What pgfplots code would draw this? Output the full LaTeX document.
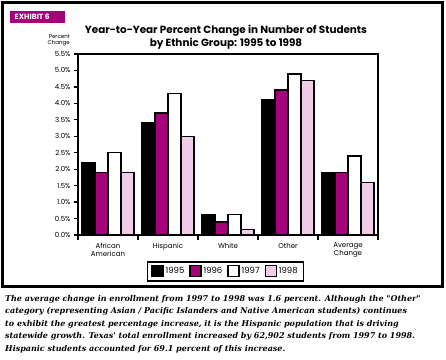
\documentclass[border=0pt]{standalone}
\usepackage{pgfplots}
\pgfplotsset{compat=1.18}
\usepackage{fontspec}
\setmainfont{Poppins}
\newfontfamily\capfont{DejaVu Serif}
\definecolor{mag}{RGB}{166,0,122}
\definecolor{pnk}{RGB}{240,204,230}
\begin{document}
\begin{tikzpicture}[x=1pt,y=1pt]
\fill[white] (0,0) rectangle (446,-359);
\draw[line width=3pt] (2.5,-2.5) rectangle (442.5,-286.5);
\fill[mag] (10,-10.5) rectangle (65,-22.5);
\node[anchor=west, text=white, font=\bfseries\fontsize{7.5}{8}\selectfont, inner sep=0pt] at (14.5,-16.5) {EXHIBIT 6};
\node[align=center, font=\bfseries\fontsize{10.4}{13}\selectfont] at (226,-37) {Year-to-Year Percent Change in Number of Students\\by Ethnic Group: 1995 to 1998};
\node[align=right, anchor=south east, inner sep=0pt, font=\fontsize{5.5}{6}\selectfont] at (70,-46.5) {Percent\\Change};
\begin{axis}[at={(78pt,-235pt)}, anchor=south west, width=300pt, height=181pt, scale only axis,
  xmin=0, xmax=5, ymin=0, ymax=5.5,
  ybar=0pt, bar width=13pt,
  ytick={0,0.5,...,5.5},
  yticklabel={\pgfmathprintnumber[fixed,fixed zerofill,precision=1]{\tick}\%},
  /pgf/number format/assume math mode=true,
  xtick={0.5,1.5,2.5,3.5,4.5},
  xticklabels={{African\\American},Hispanic,White,Other,{Average\\Change}},
  xticklabel style={align=center, font=\fontsize{7}{8}\selectfont, yshift=-0.5pt},
  yticklabel style={font=\fontsize{7}{8}\selectfont},
  minor xtick={0,1,2,3,4,5},
  major x tick style={draw=none},
  tick align=outside, major tick length=4pt, minor tick length=5pt,
  xtick pos=bottom, ytick pos=left,
  axis line style={line width=1.6pt},
  every tick/.style={black, line width=1.3pt},
  legend columns=4,
  legend style={at={(0.4917,-0.1436)}, anchor=north, draw=black, line width=1.6pt,
    font=\fontsize{8.5}{9}\selectfont, inner xsep=4pt, inner ysep=3.5pt,
    /tikz/every even column/.append style={column sep=3pt}},
  legend image code/.code={\draw[#1, line width=1.2pt] (0pt,-5.5pt) rectangle (11pt,5.5pt);},
  every axis plot/.append style={draw=black, line width=1.5pt},
]
\addplot[fill=black] coordinates {(0.5,2.2) (1.5,3.4) (2.5,0.63) (3.5,4.1) (4.5,1.9)};
\addplot[fill=mag] coordinates {(0.5,1.9) (1.5,3.7) (2.5,0.4) (3.5,4.4) (4.5,1.9)};
\addplot[fill=white] coordinates {(0.5,2.5) (1.5,4.3) (2.5,0.62) (3.5,4.9) (4.5,2.4)};
\addplot[fill=pnk] coordinates {(0.5,1.9) (1.5,3.0) (2.5,0.16) (3.5,4.7) (4.5,1.6)};
\legend{1995,1996,1997,1998}
\end{axis}
\begin{scope}[every node/.style={anchor=base west, inner sep=0pt, font=\capfont\bfseries\itshape\fontsize{8}{10}\selectfont}]
\node at (5,-301) {The average change in enrollment from 1997 to 1998 was 1.6 percent. Although the "Other"};
\node at (5,-313.5) {category (representing Asian / Pacific Islanders and Native American students) continues};
\node at (5,-326) {to exhibit the greatest percentage increase, it is the Hispanic population that is driving};
\node at (5,-338.5) {statewide growth. Texas' total enrollment increased by 62,902 students from 1997 to 1998.};
\node at (5,-351) {Hispanic students accounted for 69.1 percent of this increase.};
\end{scope}
\end{tikzpicture}
\end{document}
